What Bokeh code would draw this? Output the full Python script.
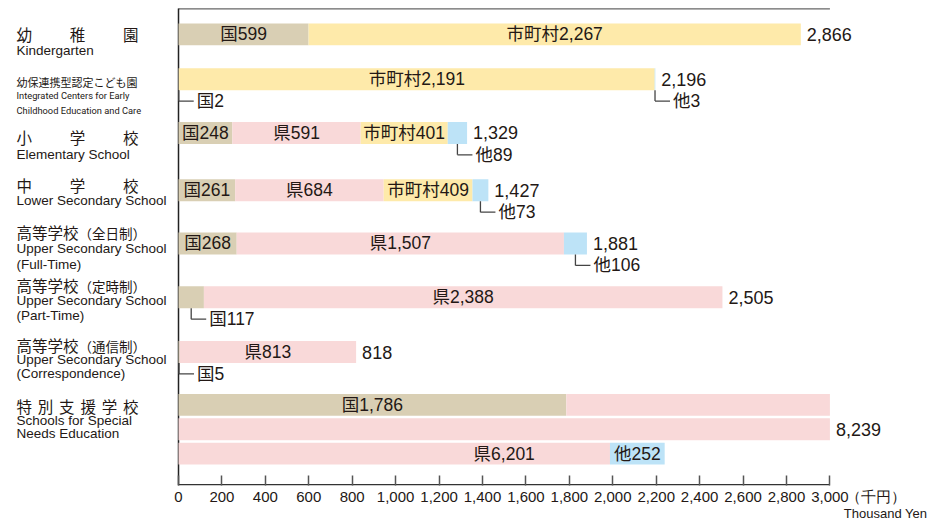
from bokeh.plotting import figure
from bokeh.models import ColumnDataSource, Range1d, FixedTicker, NumeralTickFormatter, LinearAxis
from bokeh.core.properties import value
from bokeh.embed import file_html
from bokeh.resources import INLINE

# ---------------- data (thousand yen) ----------------
series_names = ["国", "県", "市町村", "他"]
national    = [599, 2, 248, 261, 268, 117, 5, 1786]
prefectural = [0, 0, 591, 684, 1507, 2388, 813, 6201]
municipal   = [2267, 2191, 401, 409, 0, 0, 0, 0]
other       = [0, 3, 89, 73, 106, 0, 0, 252]
totals      = [2866, 2196, 1329, 1427, 1881, 2505, 818, 8239]

labels_ja = ["幼稚園", "幼保連携型認定こども園", "小学校", "中学校",
             "高等学校（全日制）", "高等学校（定時制）", "高等学校（通信制）", "特別支援学校"]
labels_en = [["Kindergarten"],
             ["Integrated Centers for Early", "Childhood Education and Care"],
             ["Elementary School"],
             ["Lower Secondary School"],
             ["Upper Secondary School", "(Full-Time)"],
             ["Upper Secondary School", "(Part-Time)"],
             ["Upper Secondary School", "(Correspondence)"],
             ["Schools for Special", "Needs Education"]]
spread_ja = [True, False, True, True, False, False, False, True]
x_ticks = list(range(0, 3001, 200))
unit_ja = "（千円）"
unit_en = "Thousand Yen"

# ---------------- layout / style ----------------
W, H = 929, 523
X0 = 178                 # page x of value 0
PX = 0.21714             # pixels per thousand yen
AXIS_MAX = 3000
FRAME_BOTTOM = 487
Y_TOP = 8
ROW_Y = [34, 79, 133, 190.5, 244, 298, 353, 406]
SUB_STEP = 24.5
BAR_H = 22
CALLOUT_MAX = 150
COLORS = ["#d9cfb4", "#f9d9d9", "#feeaaa", "#bde3f7"]
TXT = "#231815"
LINE = "#444444"
JP = "Noto Sans CJK JP"
LAT = "Liberation Sans"
MIX = "Liberation Sans, Noto Sans CJK JP"
LINES_Y = [[34, 50], [81.5, 95.5, 110], [137, 155], [185, 200.5],
           [232, 249, 265], [286, 301.5, 316.5], [345.5, 360.5, 375],
           [407.5, 422, 434.5]]


def dx(page_x):
    return (page_x - X0) / PX


U_JA = round(dx(875))    # where the unit texts sit along the axis
U_EN = round(dx(885))

p = figure(width=W, height=H, output_backend="svg", toolbar_location=None,
           title=None, x_range=Range1d(dx(0), dx(W)),
           y_range=Range1d(FRAME_BOTTOM, 0),
           min_border_left=0, min_border_right=0, min_border_top=0,
           min_border_bottom=H - FRAME_BOTTOM)
p.outline_line_color = None
p.xgrid.visible = False
p.ygrid.visible = False
p.yaxis.visible = False

# bottom axis: tick marks as (inward) minor ticks, labels incl. the unit
xa = p.xaxis[0]
xa.ticker = FixedTicker(ticks=x_ticks + [U_JA], minor_ticks=x_ticks)
xa.formatter = NumeralTickFormatter(format="0,0")
xa.major_label_overrides = {U_JA: unit_ja}
xa.axis_line_color = None
xa.major_tick_line_color = None
xa.major_tick_in = 0
xa.major_tick_out = 0
xa.minor_tick_in = 10
xa.minor_tick_out = 0
xa.minor_tick_line_color = "#555555"
xa.minor_tick_line_width = 1.5
xa.major_label_text_font = LAT
xa.major_label_text_font_size = "15px"
xa.major_label_text_color = TXT
xa.major_label_standoff = 2

# second axis below, carrying only the English unit
ua = LinearAxis(ticker=FixedTicker(ticks=[U_EN]),
                major_label_overrides={U_EN: unit_en},
                axis_line_color=None, major_tick_line_color=None,
                major_tick_in=0, major_tick_out=0,
                minor_tick_in=0, minor_tick_out=0,
                minor_tick_line_color=None, major_label_standoff=-2,
                major_label_text_font=LAT, major_label_text_font_size="13px",
                major_label_text_color=TXT)
p.add_layout(ua, "below")

# frame lines (top, left, bottom axis line up to 3,000)
p.segment(x0=[0], y0=[Y_TOP + 0.5], x1=[AXIS_MAX], y1=[Y_TOP + 0.5],
          line_color="#666666", line_width=1.2)
p.segment(x0=[0], y0=[Y_TOP], x1=[0], y1=[FRAME_BOTTOM],
          line_color="#222222", line_width=1.5)
p.segment(x0=[0], y0=[FRAME_BOTTOM - 0.75], x1=[AXIS_MAX], y1=[FRAME_BOTTOM - 0.75],
          line_color="#333333", line_width=1.5)

# ---------------- bars ----------------
series = [national, prefectural, municipal, other]
bars = dict(left=[], right=[], y=[], color=[])
inlab = dict(x=[], y=[], text=[])
tot = dict(x=[], y=[], text=[])
co_v = dict(x0=[], y0=[], x1=[], y1=[])
co_t = dict(x=[], y=[], text=[])

for r in range(len(totals)):
    pos, sub = 0.0, 0
    last_end, last_y = 0.0, ROW_Y[r]
    for si, vals in enumerate(series):
        v = vals[r]
        rem = v
        pieces = []
        while rem > 0:
            if pos >= AXIS_MAX:
                pos, sub = 0.0, sub + 1
            take = min(rem, AXIS_MAX - pos)
            yy = ROW_Y[r] + sub * SUB_STEP
            pieces.append((pos, pos + take, yy))
            bars["left"].append(pos)
            bars["right"].append(pos + take)
            bars["y"].append(yy)
            bars["color"].append(COLORS[si])
            pos += take
            rem -= take
        if not pieces:
            continue
        last_end, last_y = pieces[-1][1], pieces[-1][2]
        name = f"{series_names[si]}{v:,}"
        if v < CALLOUT_MAX:
            l, rr, yy = pieces[0]
            xc = (l + rr) / 2
            yb = yy + BAR_H / 2
            yl = yb + 11
            co_v["x0"] += [xc, xc]
            co_v["y0"] += [yb, yl]
            co_v["x1"] += [xc, xc + 15 / PX]
            co_v["y1"] += [yl, yl]
            co_t["x"].append(xc + 15 / PX)
            co_t["y"].append(yl)
            co_t["text"].append(name)
        elif len(pieces) == 1:
            l, rr, yy = pieces[0]
            inlab["x"].append((l + rr) / 2)
            inlab["y"].append(yy)
            inlab["text"].append(name)
        else:
            inlab["x"].append(AXIS_MAX / 2)
            inlab["y"].append(pieces[-1][2])
            inlab["text"].append(name)
    if sub == 0:
        tot["x"].append(last_end)
        tot["y"].append(last_y)
    else:
        tot["x"].append(AXIS_MAX)
        tot["y"].append(ROW_Y[r] + sub * SUB_STEP / 2)
    tot["text"].append(f"{totals[r]:,}")

p.hbar(left="left", right="right", y="y", height=BAR_H, color="color",
       line_color=None, source=ColumnDataSource(bars))
p.text(x="x", y="y", text="text", source=ColumnDataSource(inlab),
       text_font=value(MIX), text_font_size="17.5px", text_color=TXT,
       text_align="center", text_baseline="middle")
p.text(x="x", y="y", text="text", source=ColumnDataSource(tot),
       text_font=value(LAT), text_font_size="18px", text_color=TXT,
       text_align="left", text_baseline="middle", x_offset=6)
p.segment(x0="x0", y0="y0", x1="x1", y1="y1", source=ColumnDataSource(co_v),
          line_color=LINE, line_width=1.3)
p.text(x="x", y="y", text="text", source=ColumnDataSource(co_t),
       text_font=value(MIX), text_font_size="17.5px", text_color=TXT,
       text_align="left", text_baseline="middle", x_offset=3)

# ---------------- category labels (left) ----------------
ja_src = dict(x=[], y=[], text=[], size=[])
en_src = dict(x=[], y=[], text=[], size=[], font=[])
for r, ja in enumerate(labels_ja):
    ys = LINES_Y[r]
    if spread_ja[r]:
        fs = 15.5
        n = len(ja)
        step = (138 - 16 - fs) / (n - 1)
        for i, ch in enumerate(ja):
            ja_src["x"].append(dx(16 + i * step))
            ja_src["y"].append(ys[0])
            ja_src["text"].append(ch)
            ja_src["size"].append(f"{fs}px")
    elif "（" in ja:
        main, paren = ja.split("（", 1)
        ja_src["x"] += [dx(16), dx(16 + 15.5 * len(main))]
        ja_src["y"] += [ys[0], ys[0] + 1]
        ja_src["text"] += [main, "（" + paren]
        ja_src["size"] += ["15.5px", "13.5px"]
    else:
        ja_src["x"].append(dx(16))
        ja_src["y"].append(ys[0])
        ja_src["text"].append(ja)
        ja_src["size"].append("11px")
    for j, en in enumerate(labels_en[r]):
        en_src["x"].append(dx(16))
        en_src["y"].append(ys[j + 1])
        en_src["text"].append(en)
        en_src["size"].append("9.3px" if r == 1 else "13.5px")
        en_src["font"].append("Roboto" if r == 1 else LAT)

p.text(x="x", y="y", text="text", text_font_size="size",
       source=ColumnDataSource(ja_src), text_font=value(JP), text_color=TXT,
       text_align="left", text_baseline="middle")
p.text(x="x", y="y", text="text", text_font_size="size", text_font="font",
       source=ColumnDataSource(en_src), text_color=TXT,
       text_align="left", text_baseline="middle")

open("out.html", "w").write(file_html(p, INLINE))
